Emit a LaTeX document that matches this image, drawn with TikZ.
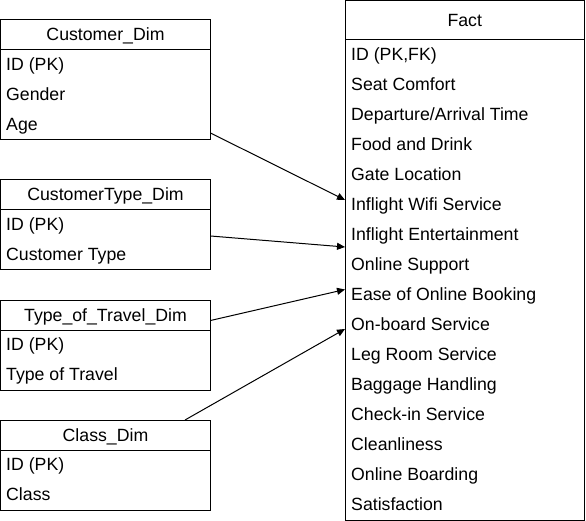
\documentclass[tikz,border=0pt]{standalone}
\usepackage{fontspec}
\setmainfont{Liberation Sans}
\usetikzlibrary{arrows.meta}
\begin{document}
\begin{tikzpicture}[x=1pt,y=-1pt,
  frame/.style={draw=black,line width=1pt,inner sep=0pt,outer sep=0pt,anchor=north west,
    font=\fontsize{17.7}{20}\selectfont},
  dimhead/.style={frame,minimum width=210pt,minimum height=30pt,text height=13pt,text depth=1pt},
  row/.style={anchor=west,inner sep=0pt,font=\fontsize{17.7}{20}\selectfont,text height=12.5pt,text depth=1.5pt},
  arr/.style={line width=1pt,-{Triangle[length=8pt,width=7pt]}}]
\useasboundingbox (0,0) rectangle (586,521);
% Customer_Dim
\node[dimhead] (custh) at (0.5,20) {Customer\_Dim};
\node[frame,minimum width=210pt,minimum height=90pt] (custb) at (0.5,50) {};
\node[row] (c1) at (6,65) {ID (PK)};
\node[row] (c2) at (6,95) {Gender};
\node[row] (c3) at (6,125) {Age};
% CustomerType_Dim
\node[dimhead] (cth) at (0.5,180) {CustomerType\_Dim};
\node[frame,minimum width=210pt,minimum height=60pt] (ctb) at (0.5,210) {};
\node[row] (t1) at (6,225) {ID (PK)};
\node[row] (t2) at (6,255) {Customer Type};
% Type_of_Travel_Dim
\node[dimhead] (tth) at (0.5,300) {Type\_of\_Travel\_Dim};
\node[frame,minimum width=210pt,minimum height=60pt] (ttb) at (0.5,330) {};
\node[row] (v1) at (6,345) {ID (PK)};
\node[row] (v2) at (6,375) {Type of Travel};
% Class_Dim
\node[dimhead] (clh) at (0.5,420) {Class\_Dim};
\node[frame,minimum width=210pt,minimum height=60pt] (clb) at (0.5,450) {};
\node[row] (k1) at (6,465) {ID (PK)};
\node[row] (k2) at (6,495) {Class};
% Fact
\node[frame,minimum width=239.5pt,minimum height=39.5pt,text height=13pt,text depth=1pt] (facth) at (345,0.5) {Fact};
\node[frame,minimum width=239.5pt,minimum height=480pt] (factb) at (345,40) {};
\foreach \t [count=\i from 0] in {ID (PK{,}FK),Seat Comfort,Departure/Arrival Time,Food and Drink,Gate Location,Inflight Wifi Service,Inflight Entertainment,Online Support,Ease of Online Booking,On-board Service,Leg Room Service,Baggage Handling,Check-in Service,Cleanliness,Online Boarding,Satisfaction}
  \node[row] (f\i) at (351,55+30*\i) {\t};
% connector ends
\coordinate (s1) at (210.5,133);
\coordinate (e1) at (345,200);
\coordinate (s2) at (210.5,236);
\coordinate (e2) at (345,247);
\coordinate (s3) at (210.5,320.5);
\coordinate (e3) at (345,289.5);
\coordinate (s4) at (185,420);
\coordinate (e4) at (345,329);
\draw[arr] (s1) -- (e1);
\draw[arr] (s2) -- (e2);
\draw[arr] (s3) -- (e3);
\draw[arr] (s4) -- (e4);
\end{tikzpicture}
\end{document}
